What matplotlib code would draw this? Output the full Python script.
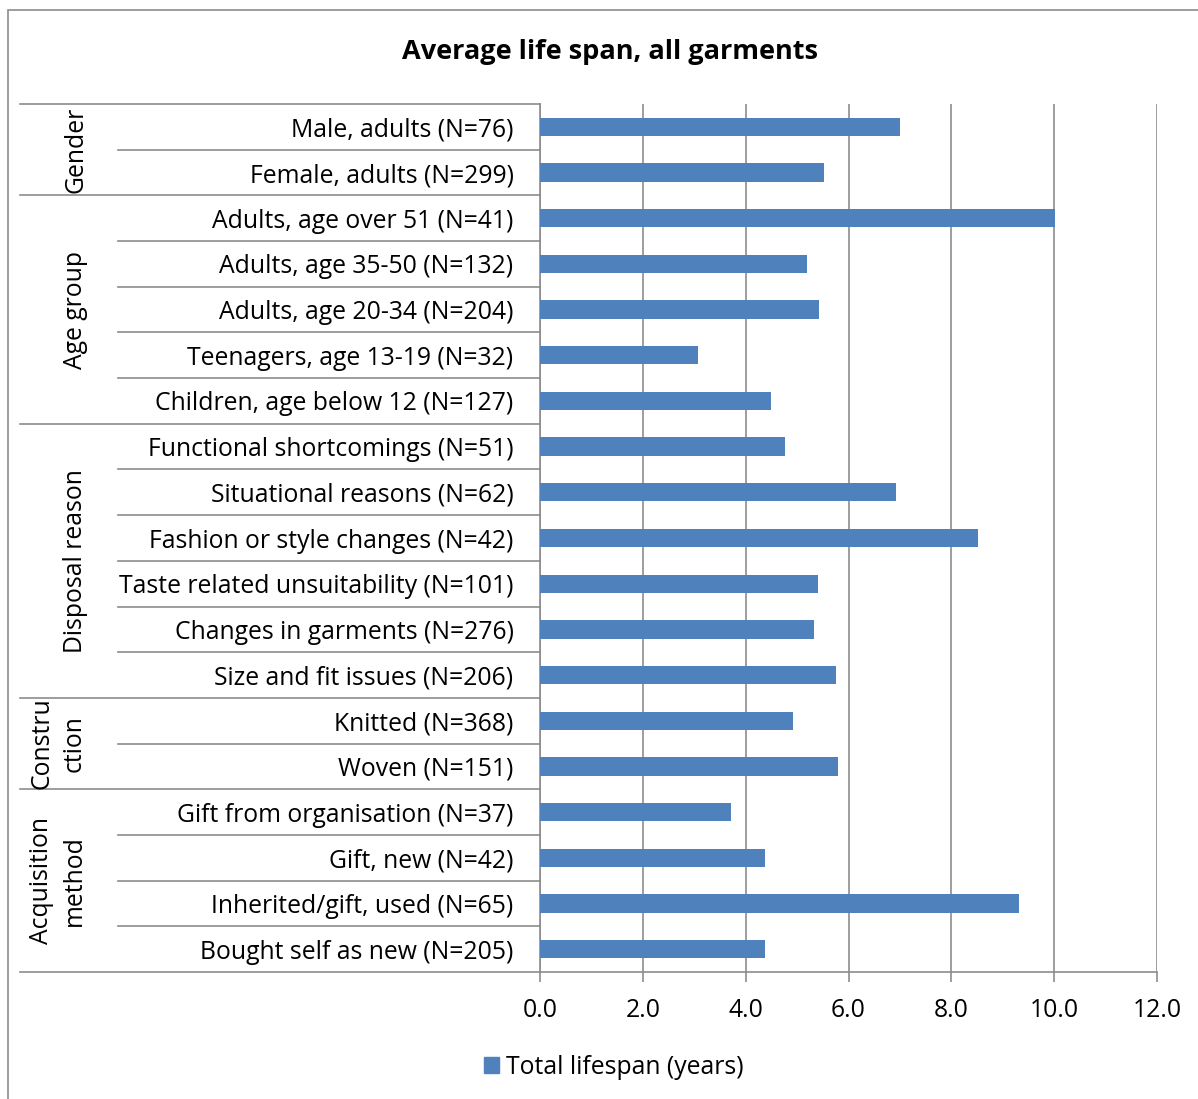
import matplotlib.pyplot as plt
from matplotlib.patches import Rectangle
import matplotlib.transforms as mtransforms

plt.rcParams['font.family'] = ['Open Sans', 'DejaVu Sans']

# data
categories = [
    "Male, adults (N=76)", "Female, adults (N=299)",
    "Adults, age over 51 (N=41)", "Adults, age 35-50 (N=132)",
    "Adults, age 20-34 (N=204)", "Teenagers, age 13-19 (N=32)",
    "Children, age below 12 (N=127)",
    "Functional shortcomings (N=51)", "Situational reasons (N=62)",
    "Fashion or style changes (N=42)", "Taste related unsuitability (N=101)",
    "Changes in garments (N=276)", "Size and fit issues (N=206)",
    "Knitted (N=368)", "Woven (N=151)",
    "Gift from organisation (N=37)", "Gift, new (N=42)",
    "Inherited/gift, used (N=65)", "Bought self as new (N=205)",
]
lifespan = [7.0, 5.52, 10.02, 5.19, 5.43, 3.07, 4.49,
            4.77, 6.93, 8.52, 5.41, 5.33, 5.76,
            4.92, 5.80,
            3.72, 4.38, 9.32, 4.38]
group_names = ["Gender", "Age group", "Disposal reason", "Constru\nction", "Acquisition\nmethod"]
group_sizes = [2, 5, 6, 2, 4]
x_ticks = [0, 2, 4, 6, 8, 10, 12]

W, H = 1198, 1099
fs = 17.8
fig = plt.figure(figsize=(W / 100, H / 100), dpi=100)

# outer chart frame
fig.patches.append(Rectangle((8 / W, -0.05), 1.2, 1 - 10 / H + 0.05, fill=False,
                             edgecolor="#8c8c8c", linewidth=1.2, transform=fig.transFigure))

ax_left, ax_right = 540 / W, 1157 / W
ax_bottom, ax_top = 1 - 972 / H, 1 - 104 / H
ax = fig.add_axes([ax_left, ax_bottom, ax_right - ax_left, ax_top - ax_bottom])

grey = "#8c8c8c"
ypos = list(range(len(categories)))
ax.barh(ypos, lifespan, height=0.4, color="#4f81bd", zorder=3)

ax.set_xlim(0, 12)
ax.set_ylim(len(categories) - 0.5, -0.5)
ax.set_xticks(x_ticks)
ax.set_xticklabels([f"{v:.1f}" for v in x_ticks], fontsize=fs)
ax.set_yticks(ypos)
ax.set_yticklabels(categories, fontsize=fs)
ax.tick_params(axis='y', length=0, pad=19)
ax.tick_params(axis='x', length=7, color=grey, width=1.2, pad=12)
ax.xaxis.grid(True, color=grey, linewidth=1.2, zorder=0)
ax.set_axisbelow(True)
for s in ["top", "right"]:
    ax.spines[s].set_visible(False)
for s in ["left", "bottom"]:
    ax.spines[s].set_color(grey)
    ax.spines[s].set_linewidth(1.2)

# category separator lines and group labels
trans = mtransforms.blended_transform_factory(ax.transAxes, ax.transData)
axw_px = 1157 - 540
inner_x = (118 - 540) / axw_px
outer_x = (20 - 540) / axw_px
ax.plot([outer_x, 0], [-0.5, -0.5], color=grey, lw=1.2, transform=trans, clip_on=False)
start = 0
for name, size in zip(group_names, group_sizes):
    end = start + size
    for b in range(start + 1, end):
        ax.plot([inner_x, 0], [b - 0.5, b - 0.5], color=grey, lw=1.2,
                transform=trans, clip_on=False)
    ax.plot([outer_x, 0], [end - 0.5, end - 0.5], color=grey, lw=1.2,
            transform=trans, clip_on=False)
    label_x = (58 - 540) / axw_px if "\n" in name else (76 - 540) / axw_px
    ax.text(label_x, (start + end - 1) / 2, name, rotation=90, ha="center", va="center",
            fontsize=fs, transform=trans, linespacing=1.4)
    start = end

fig.suptitle("Average life span, all garments", x=610 / W, y=1 - 52 / H,
             fontsize=19.5, fontweight="bold", va="center")

handle = Rectangle((0, 0), 1, 1, color="#4f81bd")
fig.legend([handle], ["Total lifespan (years)"], loc="center",
           bbox_to_anchor=(614 / W, 1 - 1067 / H), frameon=False, fontsize=fs,
           handlelength=0.6, handleheight=0.6, handletextpad=0.3)

fig.savefig("out.png", dpi=100)
